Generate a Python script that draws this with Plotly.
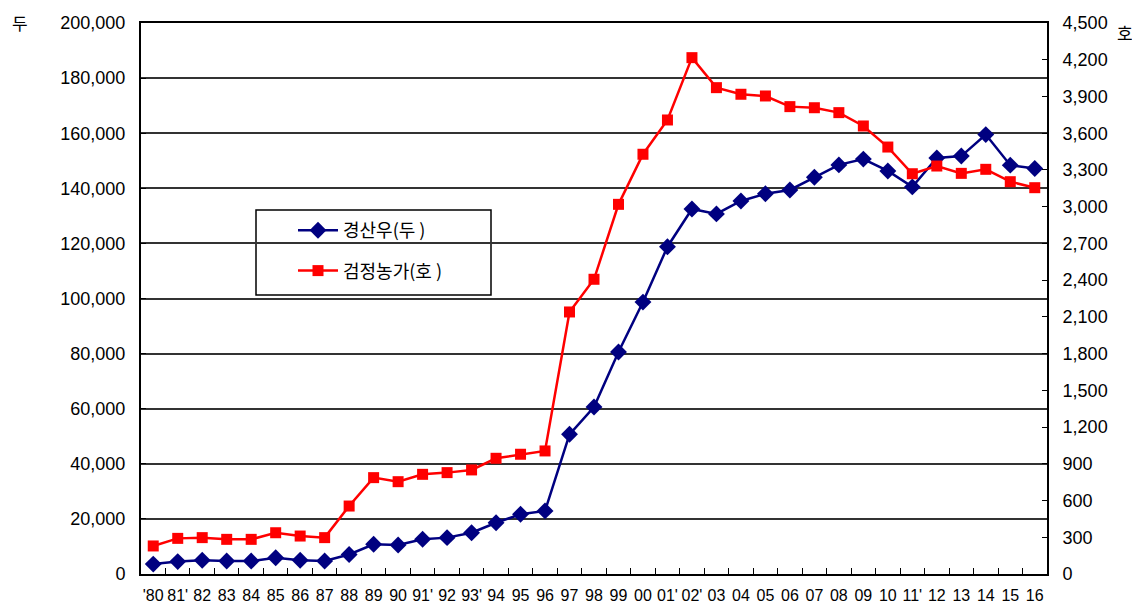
import plotly.graph_objects as go

years = ["'80", "81'", "82", "83", "84", "85", "86", "87", "88", "89", "90", "91'", "92", "93'",
         "94", "95", "96", "97", "98", "99", "00", "01'", "02'", "03", "04", "05", "06", "07",
         "08", "09", "10", "11'", "12", "13", "14", "15", "16"]

cows = [3600, 4500, 5000, 4700, 4700, 5900, 5000, 4700, 7100, 10800, 10500, 12600, 13200, 15000,
        18600, 21700, 22900, 50700, 60600, 80600, 98700, 118800, 132500, 130700, 135400, 138000,
        139400, 144000, 148500, 150600, 146300, 140500, 151000, 151700, 159500, 148400, 147200]

farms = [229, 291, 297, 283, 283, 337, 310, 297, 555, 787, 754, 814, 828, 850, 945, 978, 1005,
         2140, 2407, 3019, 3428, 3708, 4217, 3972, 3918, 3904, 3817, 3808, 3768, 3659, 3487,
         3269, 3332, 3272, 3305, 3204, 3155]

left_ticks = list(range(0, 200001, 20000))
right_ticks = list(range(0, 4501, 300))

FONT = "Liberation Sans, Arial, sans-serif"
KFONT = "Noto Sans CJK KR, sans-serif"

# screen plot area: x 141..1047, y 23..574 ; page body offset of 8px compensated
W, H = 1132, 598
L, T = 133, 15
PW, PH = 906, 551

def px(sx):
    return (sx - 141) / PW

def py(sy):
    return (574 - sy) / PH

fig = go.Figure()
fig.add_trace(go.Scatter(
    x=years, y=cows, name="경산우(두 )", mode="lines+markers", legendgroup="a",
    line=dict(color="#000080", width=2.5),
    marker=dict(symbol="diamond", size=13, color="#000080"),
    yaxis="y"))
fig.add_trace(go.Scatter(
    x=years, y=farms, name="검정농가(호 )", mode="lines+markers", legendgroup="b",
    line=dict(color="#FF0000", width=2.5),
    marker=dict(symbol="square", size=11, color="#FF0000"),
    yaxis="y2"))

fig.update_layout(
    width=W, height=H,
    margin=dict(l=L, r=W - L - PW, t=T, b=H - T - PH, autoexpand=False),
    paper_bgcolor="white", plot_bgcolor="white",
    showlegend=True,
    legend=dict(x=px(293), y=py(212), xanchor="left", yanchor="top",
                borderwidth=0, bgcolor="rgba(0,0,0,0)",
                font=dict(family=KFONT, size=18, color="black"),
                itemwidth=40, tracegroupgap=14,
                traceorder="grouped"),
    shapes=[dict(type="rect", xref="paper", yref="paper",
                 x0=px(256), x1=px(491), y0=py(295), y1=py(210),
                 line=dict(color="black", width=1.5), fillcolor="white", layer="below")],
    xaxis=dict(type="category", tickmode="array", tickvals=years, ticktext=years,
               range=[-0.5, len(years) - 0.5], tickson="boundaries",
               ticks="inside", ticklen=6, tickcolor="black",
               showline=True, linecolor="black", linewidth=2, mirror=True,
               showgrid=False, tickangle=0, ticklabelstandoff=6, automargin=False,
               tickfont=dict(family=FONT, size=16, color="black")),
    yaxis=dict(range=[0, 200000], tickvals=left_ticks,
               ticktext=[f"{v:,}" for v in left_ticks],
               showgrid=True, gridcolor="#333333", gridwidth=1.6,
               ticks="inside", ticklen=5, tickcolor="black",
               showline=True, linecolor="black", linewidth=2,
               zeroline=False, ticklabelstandoff=10, automargin=False,
               tickfont=dict(family=FONT, size=18, color="black")),
    yaxis2=dict(range=[0, 4500], tickvals=right_ticks,
                ticktext=[f"{v:,}" for v in right_ticks],
                overlaying="y", side="right", showgrid=False,
                ticks="inside", ticklen=5, tickcolor="black",
                showline=True, linecolor="black", linewidth=2,
                zeroline=False, ticklabelstandoff=10, automargin=False,
                tickfont=dict(family=FONT, size=18, color="black")),
    annotations=[
        dict(text="두", xref="paper", yref="paper", x=px(20), y=py(22), xanchor="center",
             yanchor="middle", showarrow=False, font=dict(family=KFONT, size=17, color="black")),
        dict(text="호", xref="paper", yref="paper", x=px(1125), y=py(33), xanchor="center",
             yanchor="middle", showarrow=False, font=dict(family=KFONT, size=17, color="black")),
    ],
)

fig.write_html("out.html")
